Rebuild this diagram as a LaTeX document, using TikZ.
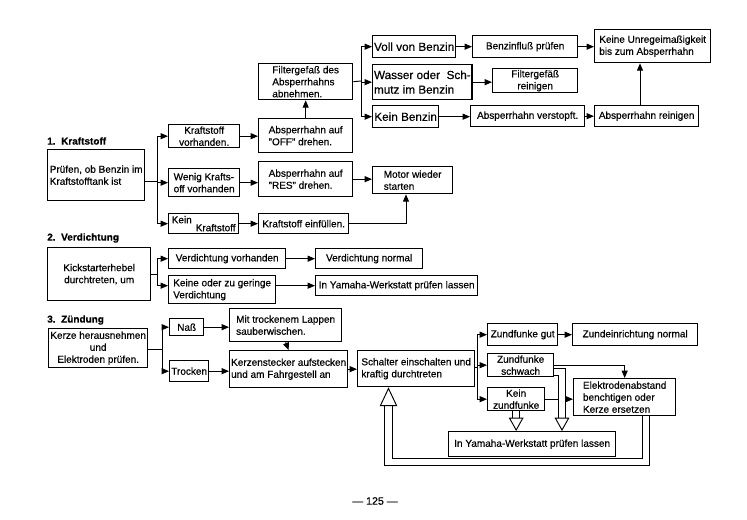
\documentclass[tikz,border=0pt]{standalone}
\usepackage{fontspec}
\setmainfont{Liberation Sans}[RawFeature={embolden=0.4}]
\usetikzlibrary{arrows.meta,calc}
\begin{document}
\begin{tikzpicture}[x=0.75pt,y=-0.75pt,
  bx/.style 2 args={draw, line width=1pt, anchor=north west,
    minimum width=#1*0.75pt, minimum height=#2*0.75pt,
    inner xsep=1pt, inner ysep=0pt, align=left,
    font=\fontsize{7.5}{9}\selectfont},
  big/.style={font=\fontsize{8.8}{11}\selectfont},
  ttl/.style={anchor=west, inner sep=0pt, font=\bfseries\fontsize{7.5}{9}\selectfont},
  ln/.style={line width=0.7pt},
  arr/.style={line width=0.7pt, -{Triangle[length=5.5pt,width=4.5pt]}},
  hollow/.style={line width=0.7pt, double distance=4.5pt,
    -{Triangle[open,fill=white,length=10pt,width=11pt]}},
  bighollow/.style={line width=0.7pt, double distance=5pt,
    -{Triangle[open,fill=white,length=14pt,width=13pt]}}]
\fill[white] (0,0) rectangle (747,519);
\useasboundingbox (0,0) rectangle (747,519);

% ---------- Section 1
\node[ttl] (t1) at (47,141) {1.\ \ Kraftstoff};
\node[bx={97}{51}] (pruef) at (47,149) {Prüfen, ob Benzin im\\Kraftstofftank ist};
\node[bx={71}{23}, align=center] (kv) at (168,124) {Kraftstoff\\vorhanden.};
\node[bx={71}{28}] (wk) at (168,168) {Wenig Krafts-\\off vorhanden};
\node[bx={70}{20}] (kk) at (168,213) {Kein\\[-3pt]\hspace*{18pt}Kraftstoff};
\node[bx={94}{36}] (filt) at (258,63) {Filtergefaß des\\Absperrhahns\\abnehmen.};
\node[bx={94}{34}] (off) at (258,118) {Absperrhahn auf\\"OFF" drehen.};
\node[bx={94}{35}] (res) at (258,161) {Absperrhahn auf\\"RES" drehen.};
\node[bx={90}{20}] (einf) at (258,213) {Kraftstoff einfüllen.};
\node[bx={80}{27}] (motor) at (372,166) {Motor wieder\\starten};
\node[bx={83}{22}, big] (voll) at (372,35) {Voll von Benzin};
\node[bx={96}{35}, big] (wasser) at (372,64) {Wasser oder \ Sch-\\mutz im Benzin};
\node[bx={66}{22}, big] (keinb) at (372,105) {Kein Benzin};
\node[bx={105}{22}, align=center] (bfp) at (472,35) {Benzinfluß prüfen};
\node[bx={85}{24}, align=center] (fgr) at (492,68) {Filtergefäß\\reinigen};
\node[bx={114}{21}] (verst) at (470,105) {Absperrhahn verstopft.};
\node[bx={104}{21}] (rein) at (594,105) {Absperrhahn reinigen};
\node[bx={116}{33}] (keine) at (594,29) {Keine Unregeimaßigkeit\\bis zum Absperrhahn};

\coordinate (b1) at (157,181);
\coordinate (b2) at (361,81);
\coordinate (c1) at (406,223);
\coordinate (c0) at (640,100);
\draw[ln] (pruef.east |- b1) -- (b1);
\draw[ln] (b1 |- kv.west) -- (b1 |- kk.west);
\draw[arr] (b1 |- kv.west) -- (kv.west);
\draw[arr] (b1 |- wk.west) -- (wk.west);
\draw[arr] (b1 |- kk.west) -- (kk.west);
\draw[arr] (kv.east) -- (kv.east -| off.west);
\draw[arr] (wk.east) -- (wk.east -| res.west);
\draw[arr] (kk.east) -- (kk.east -| einf.west);
\draw[arr] (off.north) -- (filt.south);
\draw[ln] (filt.east) -- (b2);
\draw[ln] (b2 |- voll.west) -- (b2 |- keinb.west);
\draw[arr] (b2 |- voll.west) -- (voll.west);
\draw[arr] (b2 |- wasser.west) -- (wasser.west);
\draw[arr] (b2 |- keinb.west) -- (keinb.west);
\draw[arr] (voll.east) -- (voll.east -| bfp.west);
\draw[arr] (wasser.east) -- (wasser.east -| fgr.west);
\draw[arr] (keinb.east) -- (keinb.east -| verst.west);
\draw[arr] (bfp.east) -- (bfp.east -| keine.west);
\draw[arr] (verst.east) -- (verst.east -| rein.west);
\draw[arr] (rein.north -| c0) -- (keine.south -| c0);
\draw[arr] (res.east) -- (res.east -| motor.west);
\draw[arr] (einf.east) -| (motor.south -| c1);

% ---------- Section 2
\node[ttl] (t2) at (47,238) {2.\ \ Verdichtung};
\node[bx={103}{53}, align=center] (kick) at (47,247) {Kickstarterhebel\\durchtreten, um};
\node[bx={117}{20}] (vv) at (168,248) {Verdichtung vorhanden};
\node[bx={107}{28}] (kg) at (168,275) {Keine oder zu geringe\\Verdichtung};
\node[bx={107}{20}, align=center] (vn) at (315,248) {Verdichtung normal};
\node[bx={162}{20}] (yw1) at (315,275) {In Yamaha-Werkstatt prüfen lassen};

\coordinate (b3) at (157,274);
\draw[ln] (kick.east |- b3) -- (b3);
\draw[ln] (b3 |- vv.west) -- (b3 |- yw1.west);
\draw[arr] (b3 |- vv.west) -- (vv.west);
\draw[arr] (b3 |- yw1.west) -- (kg.west |- yw1.west);
\draw[arr] (vv.east) -- (vv.east -| vn.west);
\draw[arr] (kg.east |- yw1.west) -- (yw1.west);

% ---------- Section 3
\node[ttl] (t3) at (47,320) {3.\ \ Zündung};
\node[bx={99}{39}, align=center] (kerze) at (48,328) {Kerze herausnehmen\\und\\Elektroden prüfen.};
\node[bx={34}{17}, align=center] (nass) at (169,318) {Naß};
\node[bx={39}{21}] (trock) at (169,360) {Trocken};
\node[bx={112}{33}] (mit) at (229,308) {Mit trockenem Lappen\\sauberwischen.};
\node[bx={118}{37}] (kst) at (229,350) {Kerzenstecker aufstecken\\und am Fahrgestell an};
\node[bx={117}{36}] (sch) at (357,350) {Schalter einschalten und\\kraftig durchtreten};
\node[bx={70}{22}] (zg) at (487,323) {Zundfunke gut};
\node[bx={125}{22}, align=center] (zn) at (572,323) {Zundeinrichtung normal};
\node[bx={66}{23}, align=center] (zs) at (487,353) {Zundfunke\\schwach};
\node[bx={57}{23}, align=center] (kz) at (487,387) {Kein\\zundfunke};
\node[bx={102}{37}] (el) at (573,378) {Elektrodenabstand\\benchtigen oder\\Kerze ersetzen};
\node[bx={167}{25}, align=center] (yw2) at (448,431) {In Yamaha-Werkstatt prüfen lassen};

\coordinate (b4) at (162,349);
\coordinate (b5) at (477,367);
\coordinate (c3) at (562,372);
\coordinate (r1) at (646,462);
\coordinate (r2) at (388.5,462);
\draw[ln] (kerze.east |- b4) -- (b4);
\draw[ln] (b4 |- nass.west) -- (b4 |- trock.west);
\draw[arr] (b4 |- nass.west) -- (nass.west);
\draw[arr] (b4 |- trock.west) -- (trock.west);
\draw[arr] (nass.east) -- (nass.east -| mit.west);
\draw[arr] (trock.east) -- (trock.east -| kst.west);
\draw[arr] (mit.south) -- (kst.north);
\draw[arr] (kst.east) -- (kst.east -| sch.west);
\draw[ln] (sch.east |- b5) -- (b5);
\draw[ln] (b5 |- zg.west) -- (b5 |- kz.west);
\draw[arr] (b5 |- zg.west) -- (zg.west);
\draw[arr] (b5 |- zs.west) -- (zs.west);
\draw[arr] (b5 |- kz.west) -- (kz.west);
\draw[arr] (zg.east) -- (zg.east -| zn.west);
\draw[arr] (kz.east) -- (kz.east -| el.west);
\draw[hollow] (zs.east |- c3) -| (yw2.north -| c3);
\draw[arr] (zs.east) -| (el.north);
\draw[hollow] (kz.south) -- (kz.south |- yw2.north);
\draw[bighollow] (el.south -| r1) -- (r1) -- (r2) -- (sch.south -| r2);

\node[font=\fontsize{8}{9}\selectfont] (pg) at (375,501) {— 125 —};
\end{tikzpicture}
\end{document}
